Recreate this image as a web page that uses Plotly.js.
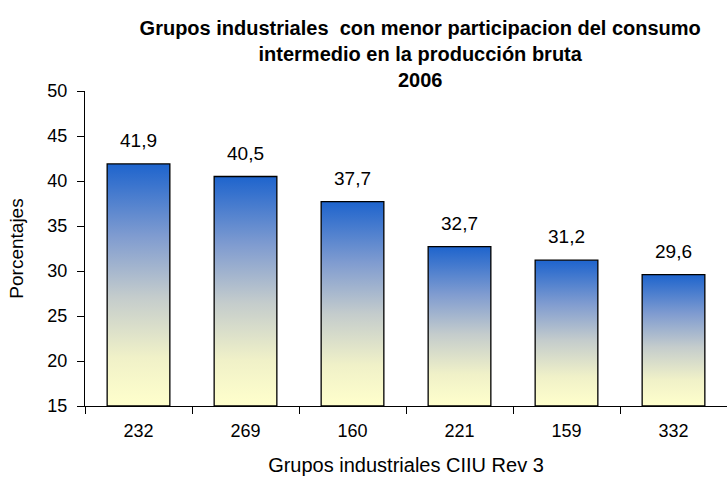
<!DOCTYPE html>
<html>
<head>
<meta charset="utf-8">
<script src="https://cdn.plot.ly/plotly-3.0.1.min.js"></script>
<style>html,body{margin:0;padding:0;background:#fff;}#chart{width:727px;height:478px;}</style>
</head>
<body>
<div id="chart"></div>
<script>
// Data
const categories = ['232', '269', '160', '221', '159', '332'];
const values = [41.9, 40.5, 37.7, 32.7, 31.2, 29.6];
const axisMin = 15;

const FONT = 'Liberation Sans, Arial, sans-serif';
const barHalf = 0.293;
const gradient = [
  [0, 'rgb(255,255,204)'],
  [0.2, 'rgb(240,241,200)'],
  [0.45, 'rgb(196,204,204)'],
  [0.7, 'rgb(128,156,208)'],
  [1, 'rgb(30,100,205)']
];

const traces = [{
  type: 'bar', x: categories, y: values,
  marker: {color: 'rgba(0,0,0,0)', line: {width: 0}},
  width: 2 * barHalf, hoverinfo: 'skip', showlegend: false
}];

values.forEach((v, i) => {
  traces.push({
    type: 'scatter', mode: 'lines', xaxis: 'x2', yaxis: 'y',
    x: [i - barHalf, i + barHalf, i + barHalf, i - barHalf, i - barHalf],
    y: [axisMin, axisMin, v, v, axisMin],
    fill: 'toself',
    fillgradient: {type: 'vertical', colorscale: gradient},
    line: {color: '#000', width: 1.3},
    hoverinfo: 'skip', showlegend: false
  });
});

const annotations = values.map((v, i) => ({
  x: i, y: v, xref: 'x2', yref: 'y',
  text: v.toFixed(1).replace('.', ','),
  showarrow: false, yanchor: 'bottom', yshift: 11,
  font: {family: FONT, size: 19, color: '#000'}
}));

const layout = {
  width: 727, height: 478,
  margin: {l: 85, r: 0, t: 91, b: 72},
  paper_bgcolor: '#fff', plot_bgcolor: '#fff',
  showlegend: false,
  title: {
    text: '<b>Grupos industriales  con menor participacion del consumo<br>intermedio en la producción bruta<br>2006</b>',
    x: 0.578, xanchor: 'center', y: 0.926, yanchor: 'top',
    font: {family: FONT, size: 20, color: '#000'}
  },
  xaxis: {
    type: 'category', range: [-0.5, 5.5],
    tickson: 'boundaries', ticks: 'outside', ticklen: 7, tickcolor: '#000',
    showline: true, linecolor: '#000', linewidth: 1,
    showgrid: false, zeroline: false,
    ticklabelstandoff: 8,
    tickfont: {family: FONT, size: 18, color: '#000'},
    title: {text: 'Grupos industriales CIIU Rev 3', standoff: 18,
            font: {family: FONT, size: 20, color: '#000'}}
  },
  xaxis2: {overlaying: 'x', range: [-0.5, 5.5], visible: false},
  yaxis: {
    range: [15, 50], dtick: 5, tick0: 15,
    ticks: 'outside', ticklen: 7, tickcolor: '#000',
    showline: true, linecolor: '#000', linewidth: 1,
    showgrid: false, zeroline: false,
    ticklabelstandoff: 6,
    tickfont: {family: FONT, size: 18, color: '#000'},
    title: {text: 'Porcentajes', standoff: 18,
            font: {family: FONT, size: 19, color: '#000'}}
  },
  annotations: annotations
};

Plotly.newPlot('chart', traces, layout, {staticPlot: true, displayModeBar: false});
</script>
</body>
</html>
